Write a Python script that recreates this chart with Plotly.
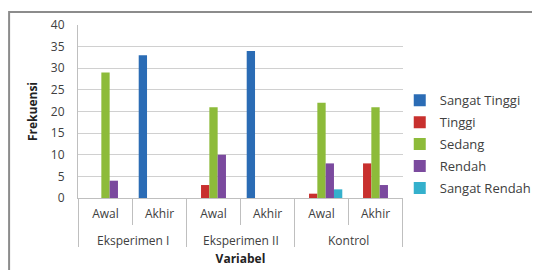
import plotly.graph_objects as go

groups = ["Eksperimen I", "Eksperimen I", "Eksperimen II", "Eksperimen II", "Kontrol", "Kontrol"]
phases = ["Awal", "Akhir", "Awal", "Akhir", "Awal", "Akhir"]

series_names = ["Sangat Tinggi", "Tinggi", "Sedang", "Rendah", "Sangat Rendah"]
sangat_tinggi = [0, 33, 0, 34, 0, 0]
tinggi = [0, 0, 3, 0, 1, 8]
sedang = [29, 0, 21, 0, 22, 21]
rendah = [4, 0, 10, 0, 8, 3]
sangat_rendah = [0, 0, 0, 0, 2, 0]
series_values = [sangat_tinggi, tinggi, sedang, rendah, sangat_rendah]
colors = ["#2B6CB5", "#C8302E", "#8DBB3A", "#7B4A9E", "#34B0CC"]
y_ticks = [0, 5, 10, 15, 20, 25, 30, 35, 40]

FONT = "Open Sans"
TXT = "#404040"
LINE = "#BFBFBF"

cats = [f"{g} / {p}" for g, p in zip(groups, phases)]

fig = go.Figure()
for name, vals, c in zip(series_names, series_values, colors):
    fig.add_trace(go.Bar(
        x=cats, y=vals, name=name,
        marker=dict(color=c, line=dict(width=0)),
        legendgroup=name,
    ))

PH = 173  # plot height in px (for paper-offset conversions)
fig.update_layout(
    width=532, height=262,
    margin=dict(l=70, r=137, t=17, b=72, autoexpand=False),
    paper_bgcolor="white", plot_bgcolor="white",
    barmode="group", bargap=0.23, bargroupgap=0,
    font=dict(family=FONT, size=12, color=TXT),
    showlegend=True,
    legend=dict(x=0.99, y=0.31, xanchor="left", yanchor="middle",
                font=dict(family=FONT, size=13, color=TXT),
                tracegroupgap=2, traceorder="grouped",
                itemwidth=30, bgcolor="rgba(0,0,0,0)"),
    xaxis=dict(
        type="category", automargin=False,
        tickvals=cats, ticktext=phases, ticks="",
        ticklabelstandoff=5,
        showline=True, linecolor=LINE, linewidth=1,
        tickfont=dict(family=FONT, size=12, color=TXT),
        title=dict(text="<b>Variabel</b>", font=dict(family=FONT, size=12, color="#222222"), standoff=33),
    ),
    yaxis=dict(
        automargin=False,
        range=[0, 40], tickvals=y_ticks, showgrid=True, gridcolor="#D0D0D0", gridwidth=1,
        showline=True, linecolor=LINE, linewidth=1, zeroline=False,
        ticks="", ticklabelstandoff=10, tickfont=dict(family=FONT, size=12, color=TXT),
        title=dict(text="<b>Frekuensi</b>", font=dict(family=FONT, size=12, color="#222222"), standoff=10),
    ),
)

# category dividers below the axis (short between phases, long between groups)
n = len(cats)
for i in range(n + 1):
    b = i - 0.5
    is_group_edge = i == 0 or i == n or groups[i - 1] != groups[i]
    depth = 49 if is_group_edge else 27
    fig.add_shape(type="line", xref="x", yref="paper", x0=b, x1=b, y0=0, y1=-depth / PH,
                  line=dict(color=LINE, width=1))

# group labels (second level of the category axis)
unique_groups = list(dict.fromkeys(groups))
for g in unique_groups:
    idx = [i for i, gg in enumerate(groups) if gg == g]
    fig.add_annotation(x=sum(idx) / len(idx), y=-42 / PH, xref="x", yref="paper",
                       text=g, showarrow=False, yanchor="middle",
                       font=dict(family=FONT, size=12, color=TXT))

# outer chart frame (cropped at right and bottom like the reference)
fig.add_shape(type="rect", xref="paper", yref="paper",
              x0=-0.212, x1=1.6, y0=-1.0, y1=1.075,
              line=dict(color="#8C8C8C", width=2), fillcolor="rgba(0,0,0,0)", layer="below")

fig.write_html("out.html")
